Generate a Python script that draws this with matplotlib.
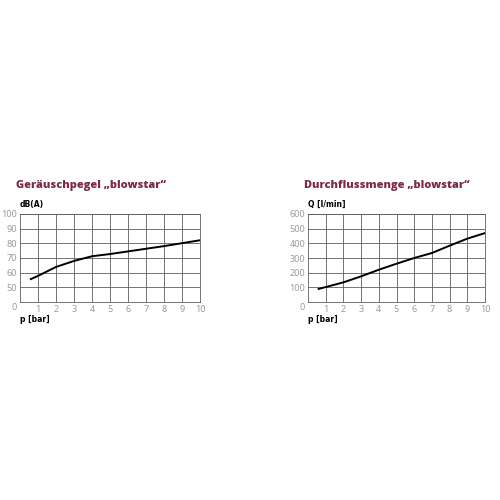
import matplotlib
matplotlib.use("Agg")
import matplotlib.pyplot as plt

# Geräuschpegel (noise level) vs pressure
noise_p = [0.6, 1, 2, 3, 4, 5, 6, 7, 8, 9, 10]
noise_db = [55.6, 57.8, 63.9, 68.0, 71.2, 72.7, 74.5, 76.3, 78.1, 80.1, 82.1]

# Durchflussmenge (flow rate) vs pressure
flow_p = [0.6, 1, 2, 3, 4, 5, 6, 7, 8, 9, 10]
flow_q = [89, 102, 134, 175, 220, 261, 300, 334, 384, 432, 470]

x_ticks = [1, 2, 3, 4, 5, 6, 7, 8, 9, 10]
noise_ticks = [50, 60, 70, 80, 90, 100]
flow_ticks = [100, 200, 300, 400, 500, 600]

TITLE_COLOR = "#7b2b48"
GRID_COLOR = "#5e5e5e"
TICK_COLOR = "#9a9a9a"
plt.rcParams["font.family"] = ["Noto Sans", "DejaVu Sans"]

fig = plt.figure(figsize=(5, 5), dpi=100)


def draw_panel(rect, xs, ys, ymin, ymax, yticks, title, ylabel):
    ax = fig.add_axes(rect)
    ax.plot(xs, ys, color="black", lw=1.4, zorder=3)
    ax.set_xlim(0, 10)
    ax.set_ylim(ymin, ymax)
    ax.set_xticks(x_ticks)
    ax.set_yticks(yticks)
    ax.set_xticklabels([str(t) for t in x_ticks])
    ax.set_yticklabels([str(t) for t in yticks])
    ax.tick_params(length=0, labelsize=6.5, labelcolor=TICK_COLOR, pad=2)
    ax.grid(True, color=GRID_COLOR, lw=0.6)
    for s in ax.spines.values():
        s.set_color(GRID_COLOR)
        s.set_linewidth(0.6)
    # corner origin label
    ax.annotate("0", xy=(0, 0), xycoords="axes fraction", xytext=(-4, -4),
                textcoords="offset points", ha="center", va="center",
                fontsize=6.5, color=TICK_COLOR)
    ax.text(0, 1.06, ylabel, transform=ax.transAxes, fontsize=5.5,
            fontweight="bold", ha="left", va="bottom", family="DejaVu Sans")
    ax.text(0, -0.15, "p [bar]", transform=ax.transAxes, fontsize=5.5,
            fontweight="bold", ha="left", va="top", family="DejaVu Sans")
    ax.text(-0.02, 1.26, title, transform=ax.transAxes, fontsize=7.9,
            fontweight="extra bold", color=TITLE_COLOR, ha="left", va="bottom",
            family=["Open Sans", "DejaVu Sans"])
    return ax


draw_panel([0.04, 0.396, 0.36, 0.176], noise_p, noise_db, 40, 100,
           noise_ticks, "Geräuschpegel „blowstar“", "dB(A)")
draw_panel([0.616, 0.396, 0.354, 0.176], flow_p, flow_q, 0, 600,
           flow_ticks, "Durchflussmenge „blowstar“", "Q [l/min]")

fig.savefig("out.png", dpi=100)
